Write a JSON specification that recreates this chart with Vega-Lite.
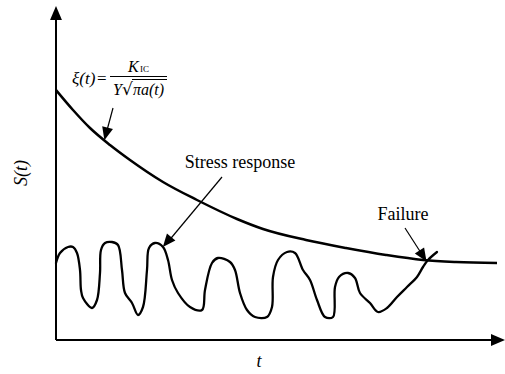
{
  "$schema": "https://vega.github.io/schema/vega-lite/v6.json",
  "width": 505,
  "height": 374,
  "autosize": {"type": "fit", "contains": "padding"},
  "padding": 0,
  "background": "white",
  "config": {"view": {"stroke": null}},
  "datasets": {
    "axes": [
      {"t": 0, "S": 0, "t2": 0, "S2": 322},
      {"t": 0, "S": 0, "t2": 440, "S2": 0}
    ],
    "pointers": [
      {"t": 57, "S": 232, "t2": 50, "S2": 206},
      {"t": 166, "S": 163, "t2": 111, "S2": 97},
      {"t": 349, "S": 112, "t2": 367, "S2": 84}
    ],
    "formulaLines": [
      {"t": 54, "S": 263.5, "t2": 111, "S2": 263.5},
      {"t": 76, "S": 260.5, "t2": 111, "S2": 260.5}
    ],
    "decay": [
      {"t": 0, "S": 250}, {"t": 17, "S": 230}, {"t": 34, "S": 212}, {"t": 54, "S": 195},
      {"t": 74, "S": 180}, {"t": 107, "S": 158}, {"t": 141, "S": 140}, {"t": 181, "S": 121},
      {"t": 207, "S": 111}, {"t": 250, "S": 100}, {"t": 290, "S": 92}, {"t": 330, "S": 85},
      {"t": 367, "S": 80}, {"t": 400, "S": 78}, {"t": 441, "S": 77}
    ],
    "wave": [
      {"i": 0, "t": 0, "S": 77}, {"i": 1, "t": 4, "S": 87}, {"i": 2, "t": 12, "S": 93},
      {"i": 3, "t": 17, "S": 93}, {"i": 4, "t": 21, "S": 87}, {"i": 5, "t": 24, "S": 70},
      {"i": 6, "t": 25, "S": 50}, {"i": 7, "t": 27, "S": 42}, {"i": 8, "t": 36, "S": 32},
      {"i": 9, "t": 41, "S": 40}, {"i": 10, "t": 44, "S": 67}, {"i": 11, "t": 45, "S": 90},
      {"i": 12, "t": 49, "S": 97}, {"i": 13, "t": 56, "S": 98}, {"i": 14, "t": 62, "S": 95},
      {"i": 15, "t": 66, "S": 70}, {"i": 16, "t": 69, "S": 47}, {"i": 17, "t": 76, "S": 37},
      {"i": 18, "t": 82, "S": 25}, {"i": 19, "t": 87, "S": 33}, {"i": 20, "t": 91, "S": 70},
      {"i": 21, "t": 93, "S": 92}, {"i": 22, "t": 99, "S": 97}, {"i": 23, "t": 107, "S": 93},
      {"i": 24, "t": 112, "S": 80}, {"i": 25, "t": 116, "S": 60}, {"i": 26, "t": 122, "S": 47},
      {"i": 27, "t": 134, "S": 33}, {"i": 28, "t": 146, "S": 30}, {"i": 29, "t": 149, "S": 50},
      {"i": 30, "t": 156, "S": 77}, {"i": 31, "t": 162, "S": 82}, {"i": 32, "t": 174, "S": 78},
      {"i": 33, "t": 179, "S": 70}, {"i": 34, "t": 184, "S": 47}, {"i": 35, "t": 191, "S": 30},
      {"i": 36, "t": 199, "S": 23}, {"i": 37, "t": 211, "S": 23}, {"i": 38, "t": 216, "S": 33},
      {"i": 39, "t": 217, "S": 63}, {"i": 40, "t": 222, "S": 80}, {"i": 41, "t": 231, "S": 88},
      {"i": 42, "t": 239, "S": 87}, {"i": 43, "t": 247, "S": 70}, {"i": 44, "t": 254, "S": 60},
      {"i": 45, "t": 261, "S": 40}, {"i": 46, "t": 269, "S": 23}, {"i": 47, "t": 277, "S": 23},
      {"i": 48, "t": 279, "S": 53}, {"i": 49, "t": 283, "S": 63}, {"i": 50, "t": 292, "S": 67},
      {"i": 51, "t": 299, "S": 62}, {"i": 52, "t": 304, "S": 47}, {"i": 53, "t": 314, "S": 37},
      {"i": 54, "t": 322, "S": 28}, {"i": 55, "t": 331, "S": 32}, {"i": 56, "t": 341, "S": 43},
      {"i": 57, "t": 351, "S": 53}, {"i": 58, "t": 361, "S": 63}, {"i": 59, "t": 367, "S": 73},
      {"i": 60, "t": 372, "S": 80}, {"i": 61, "t": 381, "S": 88}
    ]
  },
  "encoding": {
    "x": {"field": "t", "type": "quantitative", "scale": {"domain": [-56, 449], "nice": false, "zero": false}, "axis": null},
    "y": {"field": "S", "type": "quantitative", "scale": {"domain": [-34, 340], "nice": false, "zero": false}, "axis": null}
  },
  "layer": [
    {
      "data": {"name": "axes"},
      "mark": {"type": "rule", "color": "black", "strokeWidth": 2},
      "encoding": {"x2": {"field": "t2"}, "y2": {"field": "S2"}}
    },
    {
      "data": {"values": [{"t": 0, "S": 327}]},
      "mark": {"type": "point", "shape": "M0,-1L-0.85,1L0.85,1Z", "filled": true, "opacity": 1, "color": "black", "size": 196, "angle": 0}
    },
    {
      "data": {"values": [{"t": 442, "S": 0}]},
      "mark": {"type": "point", "shape": "M0,-1L-0.85,1L0.85,1Z", "filled": true, "opacity": 1, "color": "black", "size": 196, "angle": 90}
    },
    {
      "data": {"name": "decay"},
      "mark": {"type": "line", "color": "black", "strokeWidth": 2.5, "interpolate": "monotone"}
    },
    {
      "data": {"name": "wave"},
      "mark": {"type": "line", "color": "black", "strokeWidth": 2.3, "strokeJoin": "round", "strokeCap": "round", "interpolate": "catmull-rom"},
      "encoding": {"order": {"field": "i", "type": "quantitative"}}
    },
    {
      "data": {"name": "pointers"},
      "mark": {"type": "rule", "color": "black", "strokeWidth": 1.2},
      "encoding": {"x2": {"field": "t2"}, "y2": {"field": "S2"}}
    },
    {
      "data": {"values": [{"t": 50, "S": 206}]},
      "mark": {"type": "point", "shape": "M0,-1L-0.85,1L0.85,1Z", "filled": true, "opacity": 1, "color": "black", "size": 169, "angle": 194}
    },
    {
      "data": {"values": [{"t": 111, "S": 98}]},
      "mark": {"type": "point", "shape": "M0,-1L-0.85,1L0.85,1Z", "filled": true, "opacity": 1, "color": "black", "size": 169, "angle": 220}
    },
    {
      "data": {"values": [{"t": 367, "S": 84}]},
      "mark": {"type": "point", "shape": "M0,-1L-0.85,1L0.85,1Z", "filled": true, "opacity": 1, "color": "black", "size": 169, "angle": 147}
    },
    {
      "data": {"name": "formulaLines"},
      "mark": {"type": "rule", "color": "black", "strokeWidth": 1},
      "encoding": {"x2": {"field": "t2"}, "y2": {"field": "S2"}}
    },
    {
      "data": {"values": [{"t": -34, "S": 167, "label": "S(t)"}]},
      "mark": {"type": "text", "font": "Liberation Serif", "fontStyle": "italic", "fontSize": 18, "angle": 270, "align": "center", "baseline": "middle", "color": "black"},
      "encoding": {"text": {"field": "label"}}
    },
    {
      "data": {"values": [{"t": 203, "S": -22, "label": "t"}]},
      "mark": {"type": "text", "font": "Liberation Serif", "fontStyle": "italic", "fontSize": 18, "align": "center", "baseline": "middle", "color": "black"},
      "encoding": {"text": {"field": "label"}}
    },
    {
      "data": {"values": [{"t": 184, "S": 177, "label": "Stress response"}, {"t": 347, "S": 125, "label": "Failure"}]},
      "mark": {"type": "text", "font": "Liberation Serif", "fontSize": 18, "align": "center", "baseline": "middle", "color": "black"},
      "encoding": {"text": {"field": "label"}}
    },
    {
      "data": {"values": [{"t": 16, "S": 256, "label": "ξ(t)"}]},
      "mark": {"type": "text", "font": "Liberation Serif", "fontStyle": "italic", "fontSize": 17, "align": "left", "baseline": "alphabetic", "color": "black"},
      "encoding": {"text": {"field": "label"}}
    },
    {
      "data": {"values": [{"t": 41, "S": 256, "label": "="}]},
      "mark": {"type": "text", "font": "Liberation Serif", "fontSize": 17, "align": "left", "baseline": "alphabetic", "color": "black"},
      "encoding": {"text": {"field": "label"}}
    },
    {
      "data": {"values": [{"t": 72, "S": 268, "label": "K"}, {"t": 57, "S": 245, "label": "Y"}, {"t": 77, "S": 245, "label": "πa(t)"}]},
      "mark": {"type": "text", "font": "Liberation Serif", "fontStyle": "italic", "fontSize": 16, "align": "left", "baseline": "alphabetic", "color": "black"},
      "encoding": {"text": {"field": "label"}}
    },
    {
      "data": {"values": [{"t": 84, "S": 268, "label": "IC"}]},
      "mark": {"type": "text", "font": "Liberation Serif", "fontSize": 9, "align": "left", "baseline": "alphabetic", "color": "black"},
      "encoding": {"text": {"field": "label"}}
    },
    {
      "data": {"values": [{"t": 66, "S": 245, "label": "√"}]},
      "mark": {"type": "text", "font": "DejaVu Serif", "fontSize": 17, "align": "left", "baseline": "alphabetic", "color": "black"},
      "encoding": {"text": {"field": "label"}}
    }
  ]
}
